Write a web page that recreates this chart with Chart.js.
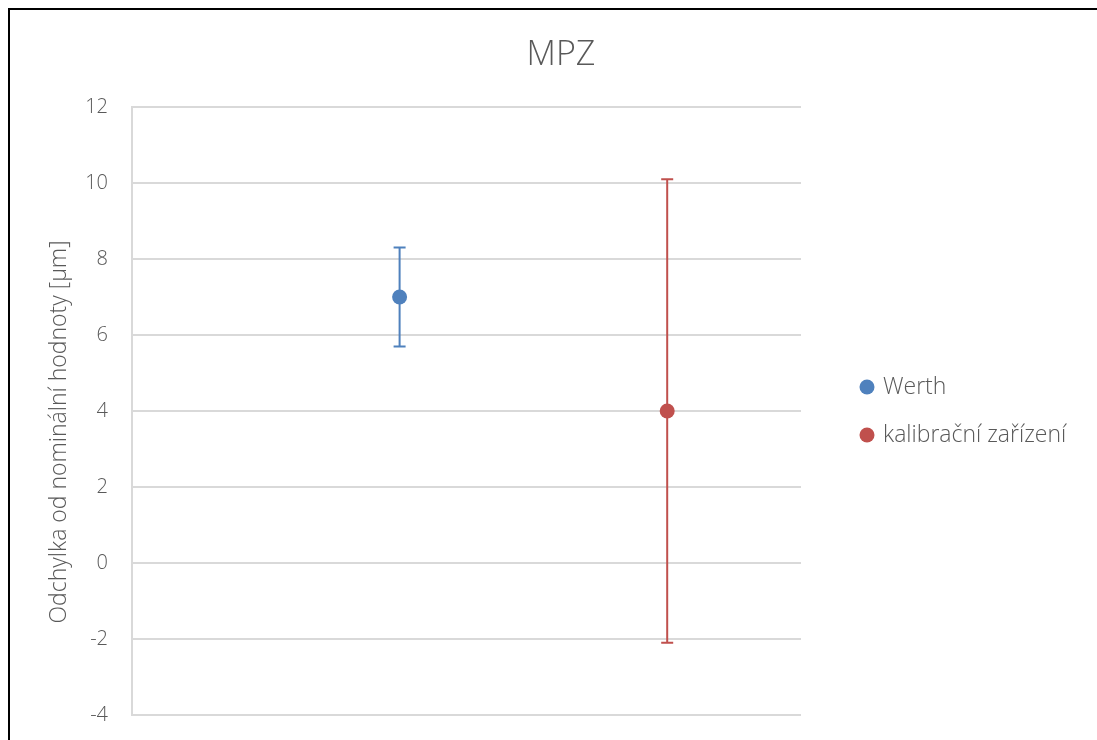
<!DOCTYPE html>
<html lang="cs">
  <head>
    <meta charset="UTF-8" />
    <title>MPZ</title>
    <script src="https://cdn.jsdelivr.net/npm/chart.js"></script>
    <style>
      body {
        margin: 0;
        background: #ffffff;
        overflow: hidden;
      }
      .frame {
        position: absolute;
        left: 8px;
        top: 8px;
        width: 1200px;
        height: 800px;
        border-left: 2px solid #000;
        border-top: 2px solid #000;
      }
      #chart {
        position: absolute;
        left: 0;
        top: 0;
      }
    </style>
  </head>
  <body>
    <div class="frame"></div>
    <canvas id="chart" width="1122" height="760"></canvas>

    <script>
      const chartTitle = "MPZ";
      const yTitle = "Odchylka od nominální hodnoty [µm]";
      const seriesNames = ["Werth", "kalibrační zařízení"];
      const xValues = [1, 2];
      const means = [7, 4];
      const errors = [1.3, 6.1];
      const seriesColors = ["#4F81BD", "#C0504D"];
      const yTicks = [-4, -2, 0, 2, 4, 6, 8, 10, 12];

      const textColor = "#595959";
      const fontFamily = "'Open Sans', 'Noto Sans', sans-serif";

      // error bars, drawn under the markers
      const errorBars = {
        id: "errorBars",
        beforeDatasetsDraw(chart) {
          const ctx = chart.ctx;
          const xs = chart.scales.x;
          const ys = chart.scales.y;
          chart.data.datasets.forEach((ds) => {
            ds.data.forEach((p, j) => {
              const err = ds.errors[j];
              const px = xs.getPixelForValue(p.x);
              const top = ys.getPixelForValue(p.y + err);
              const bottom = ys.getPixelForValue(p.y - err);
              ctx.save();
              ctx.strokeStyle = ds.borderColor;
              ctx.lineWidth = 2;
              ctx.beginPath();
              ctx.moveTo(px, top);
              ctx.lineTo(px, bottom);
              ctx.moveTo(px - 6, top);
              ctx.lineTo(px + 6, top);
              ctx.moveTo(px - 6, bottom);
              ctx.lineTo(px + 6, bottom);
              ctx.stroke();
              ctx.restore();
            });
          });
        },
      };

      // title, legend on the right and the y axis title
      const extras = {
        id: "extras",
        afterDraw(chart) {
          const ctx = chart.ctx;
          const area = chart.chartArea;
          const midY = (area.top + area.bottom) / 2;
          ctx.save();

          ctx.fillStyle = textColor;
          ctx.textAlign = "center";
          ctx.textBaseline = "alphabetic";
          ctx.font = "300 34px " + fontFamily;
          ctx.fillText(chartTitle, chart.width / 2, 65);

          ctx.font = "300 23px " + fontFamily;
          ctx.textBaseline = "middle";
          chart.data.datasets.forEach((ds, i) => {
            const cx = area.right + 66;
            const cy = midY - 24 + i * 48;
            ctx.fillStyle = ds.backgroundColor;
            ctx.beginPath();
            ctx.arc(cx, cy, 7.5, 0, Math.PI * 2);
            ctx.fill();
            ctx.fillStyle = textColor;
            ctx.textAlign = "left";
            ctx.fillText(ds.label, cx + 16, cy);
          });

          ctx.translate(59, midY + 21);
          ctx.rotate(-Math.PI / 2);
          ctx.textAlign = "center";
          ctx.fillStyle = textColor;
          ctx.fillText(yTitle, 0, 0);
          ctx.restore();
        },
      };

      const datasets = seriesNames.map((name, i) => ({
        label: name,
        data: [{ x: xValues[i], y: means[i] }],
        errors: [errors[i]],
        backgroundColor: seriesColors[i],
        borderColor: seriesColors[i],
        pointRadius: 7.5,
        pointHoverRadius: 7.5,
        pointBorderWidth: 0,
      }));

      new Chart(document.getElementById("chart"), {
        type: "scatter",
        data: { datasets: datasets },
        plugins: [errorBars, extras],
        options: {
          responsive: false,
          animation: false,
          layout: {
            padding: { left: 0, top: 107, right: 321, bottom: 45 },
          },
          plugins: {
            legend: { display: false },
            tooltip: { enabled: false },
            title: { display: false },
          },
          scales: {
            x: {
              type: "linear",
              min: 0,
              max: 2.5,
              display: false,
            },
            y: {
              min: -4,
              max: 12,
              afterFit(scale) {
                scale.width = 132;
              },
              afterBuildTicks(scale) {
                scale.ticks = yTicks.map((v) => ({ value: v }));
              },
              grid: {
                color: "#d9d9d9",
                lineWidth: 2,
                drawTicks: false,
              },
              border: { display: true, color: "#d9d9d9", width: 2 },
              ticks: {
                color: textColor,
                padding: 24,
                font: { family: fontFamily, size: 20, weight: "300" },
              },
            },
          },
        },
      });
    </script>
  </body>
</html>
